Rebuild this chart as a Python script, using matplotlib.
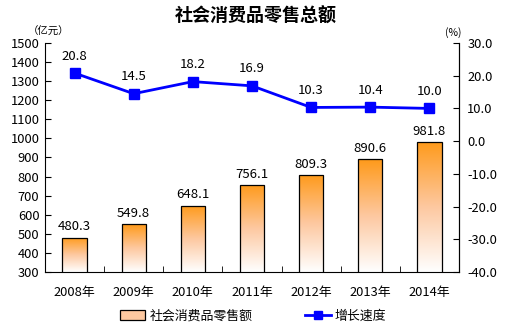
import matplotlib
matplotlib.use("Agg")
import matplotlib.pyplot as plt
import numpy as np
from matplotlib.colors import LinearSegmentedColormap
from matplotlib.lines import Line2D
from matplotlib.patches import Patch

plt.rcParams['font.family'] = ['Noto Sans CJK SC', 'DejaVu Sans']

years = ['2008年', '2009年', '2010年', '2011年', '2012年', '2013年', '2014年']
sales = [480.3, 549.8, 648.1, 756.1, 809.3, 890.6, 981.8]
growth = [20.8, 14.5, 18.2, 16.9, 10.3, 10.4, 10.0]

fig = plt.figure(figsize=(5.13, 3.33), dpi=100)
ax1 = fig.add_axes([45/513, 1-272/333, 414/513, 229/333])
ax2 = ax1.twinx()

x = np.arange(len(years))
cmap = LinearSegmentedColormap.from_list('og', ['#ffffff', '#fdc8a0', '#ff9a1a'])
grad = np.linspace(0, 1, 256).reshape(-1, 1)

bars = ax1.bar(x, sales, width=0.41, bottom=0, facecolor='none',
               edgecolor='black', linewidth=0.9, zorder=3)
for b in bars:
    x0, w, h = b.get_x(), b.get_width(), b.get_height()
    im = ax1.imshow(grad, extent=[x0, x0 + w, 300, h], origin='lower',
                    cmap=cmap, aspect='auto', zorder=2)
    im.set_clip_path(b)

for xi, v in zip(x, sales):
    ax1.text(xi, v + 22, '%.1f' % v, ha='center', va='bottom', fontsize=9.5)

ax1.set_xlim(-0.5, 6.5)
ax1.set_ylim(300, 1500)
ax1.set_yticks(np.arange(300, 1501, 100))
ax1.set_xticks(x)
ax1.set_xticklabels(years, fontsize=9.3)
ax1.set_xticks(np.arange(-0.5, 7, 1), minor=True)
ax1.tick_params(axis='x', which='major', length=0, pad=10)
ax1.tick_params(axis='x', which='minor', direction='in', length=4)
ax1.tick_params(axis='y', direction='in', length=4, labelsize=9.3, pad=4)

ax2.plot(x, growth, color='#0000ff', linewidth=2, marker='s', markersize=6.5,
         zorder=5)
for xi, v in zip(x, growth):
    ax2.text(xi, v + 3.2, '%.1f' % v, ha='center', va='bottom', fontsize=9.5)
ax2.set_ylim(-40, 30)
ax2.set_yticks(np.arange(-40, 31, 10))
ax2.set_yticklabels(['%.1f' % t for t in np.arange(-40, 31, 10)])
ax2.tick_params(axis='y', direction='in', length=4, labelsize=9.3, pad=6)

for ax in (ax1, ax2):
    ax.spines['top'].set_visible(False)
ax2.spines['left'].set_visible(False)
ax2.spines['bottom'].set_visible(False)

fig.text(256/513, 1-16/333, '社会消费品零售总额', ha='center', va='center',
         fontsize=13, fontweight='bold')
fig.text(28/513, 1-32/333, '（亿元）', ha='left', va='center', fontsize=7.5)
fig.text(453/513, 1-33/333, '(%)', ha='center', va='center', fontsize=7.5)

handles = [Patch(facecolor='#fdc8a0', edgecolor='black', linewidth=0.9),
           Line2D([], [], color='#0000ff', linewidth=2, marker='s', markersize=6)]
fig.legend(handles, ['社会消费品零售额', '增长速度'], loc='center',
           bbox_to_anchor=(253/513, 1-316/333), ncol=2, frameon=False,
           fontsize=9.3, columnspacing=4.1, handlelength=2.0, handletextpad=0.3)

fig.savefig('out.png', dpi=100)
